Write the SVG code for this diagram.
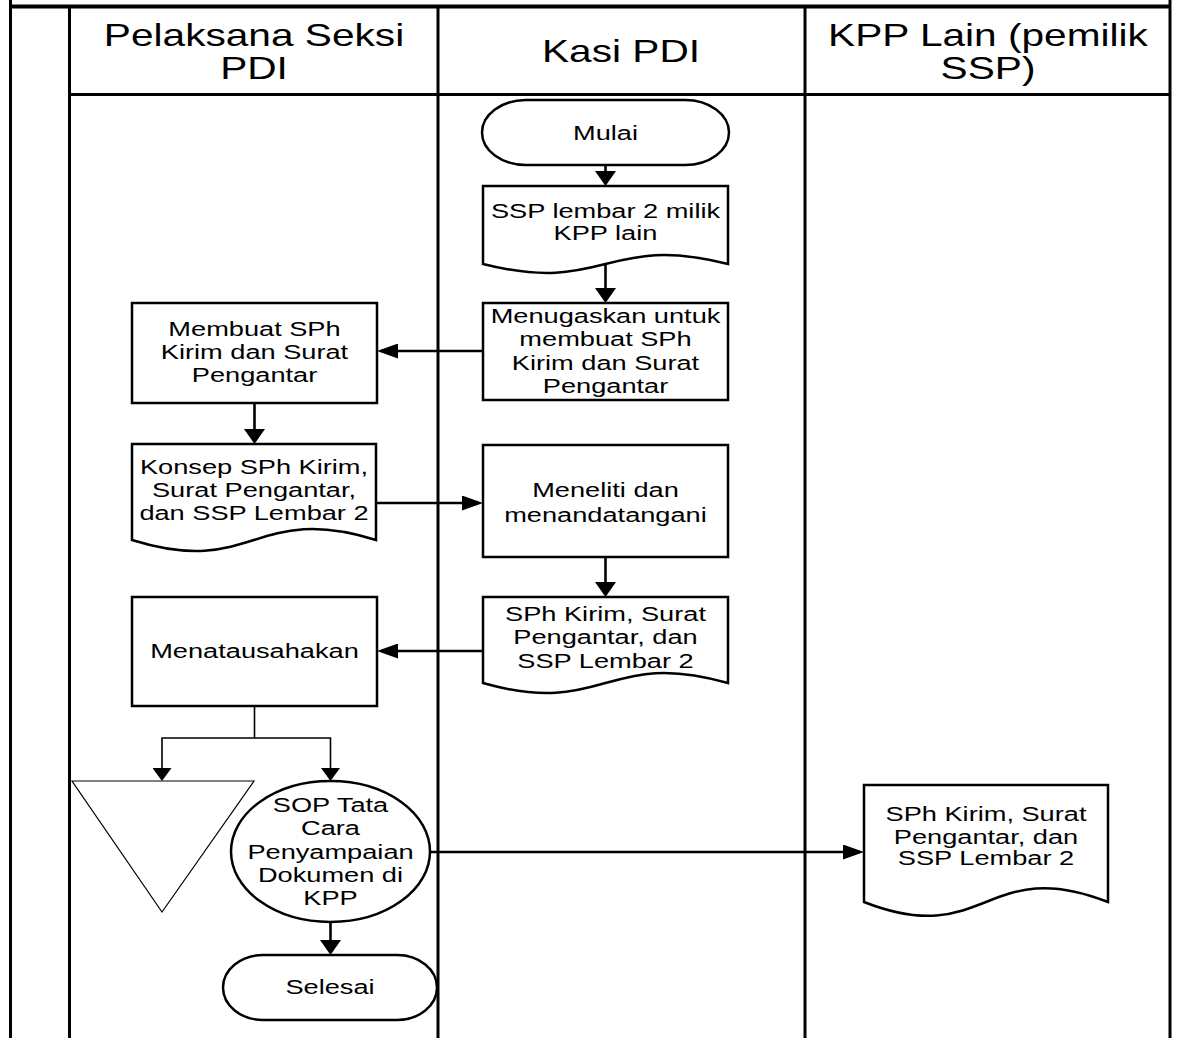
<svg xmlns="http://www.w3.org/2000/svg" width="1179" height="1038" viewBox="0 0 1179 1038">
  <defs>
    <style>
      .frame{fill:none;stroke:#000;stroke-width:3}
      .shape{fill:#fff;stroke:#000;stroke-width:2.5}
      .thin{fill:#fff;stroke:#000;stroke-width:1.2}
      .conn{fill:none;stroke:#000;stroke-width:2.6}
      .conn-thin{fill:none;stroke:#000;stroke-width:1.6}
      text{font-family:"Liberation Sans",Arial,sans-serif;fill:#000}
      .hd{font-size:32px;text-anchor:middle}
      .lb{font-size:20px;text-anchor:middle}
    </style>
    <!-- horizontal arrowhead -->
    <marker id="ah" markerUnits="userSpaceOnUse" markerWidth="21" markerHeight="15" refX="17" refY="7.5" orient="auto">
      <path d="M0,0 L21,7.5 L0,15 Z" fill="#000"/>
    </marker>
    <!-- vertical arrowhead (wider base) -->
    <marker id="av" markerUnits="userSpaceOnUse" markerWidth="15" markerHeight="21" refX="11" refY="10.5" orient="auto">
      <path d="M0,0 L15,10.5 L0,21 Z" fill="#000"/>
    </marker>
    <!-- smaller vertical arrowhead for the thin branch lines -->
    <marker id="avs" markerUnits="userSpaceOnUse" markerWidth="13" markerHeight="19" refX="9" refY="9.5" orient="auto">
      <path d="M0,0 L13,9.5 L0,19 Z" fill="#000"/>
    </marker>
  </defs>

  <rect width="1179" height="1038" fill="#fff"/>

  <!-- swimlane frame -->
  <g id="lanes">
    <line x1="10.5" y1="0" x2="10.5" y2="1038" class="frame"/>
    <line x1="1170" y1="0" x2="1170" y2="1038" class="frame"/>
    <line x1="10" y1="6.5" x2="1171" y2="6.5" stroke="#000" stroke-width="4"/>
    <line x1="69.5" y1="7" x2="69.5" y2="1038" class="frame"/>
    <line x1="438" y1="7" x2="438" y2="1038" class="frame"/>
    <line x1="805" y1="7" x2="805" y2="1038" class="frame"/>
    <line x1="69" y1="94.5" x2="1170" y2="94.5" class="frame"/>
    <text class="hd" transform="translate(254,0) scale(1.27,1)"><tspan x="0" y="46">Pelaksana Seksi</tspan><tspan x="0" y="79">PDI</tspan></text>
    <text class="hd" transform="translate(621,0) scale(1.27,1)"><tspan x="0" y="62.5">Kasi PDI</tspan></text>
    <text class="hd" transform="translate(988,0) scale(1.27,1)"><tspan x="0" y="46">KPP Lain (pemilik</tspan><tspan x="0" y="79">SSP)</tspan></text>
  </g>

  <!-- connectors -->
  <g id="connectors">
    <path class="conn" d="M605.5,165 V182" marker-end="url(#av)"/>
    <path class="conn" d="M605.5,263 V299" marker-end="url(#av)"/>
    <path class="conn" d="M483,351 H381" marker-end="url(#ah)"/>
    <path class="conn" d="M254.5,403 V440" marker-end="url(#av)"/>
    <path class="conn" d="M376,503 H479" marker-end="url(#ah)"/>
    <path class="conn" d="M605.5,557 V593" marker-end="url(#av)"/>
    <path class="conn" d="M483,651 H381" marker-end="url(#ah)"/>
    <path class="conn-thin" d="M254.5,706 V738 H162 V777" marker-end="url(#avs)"/>
    <path class="conn-thin" d="M254.5,738 H330.5 V777" marker-end="url(#avs)"/>
    <path class="conn" d="M330.5,922 V951" marker-end="url(#av)"/>
    <path class="conn" d="M430,852 H860" marker-end="url(#ah)"/>
  </g>

  <g id="mulai">
    <rect class="shape" x="482" y="100" width="247" height="65" rx="44" ry="32.5"/>
    <text class="lb" transform="translate(605.5,0) scale(1.36,1)"><tspan x="0" y="140">Mulai</tspan></text>
  </g>

  <g id="ssp-lembar-2">
    <path class="shape" d="M483,186 H728 V264 C605.5,233 605.5,295 483,264 Z"/>
    <text class="lb" transform="translate(605.5,0) scale(1.36,1)"><tspan x="0" y="218">SSP lembar 2 milik</tspan><tspan x="0" y="240">KPP lain</tspan></text>
  </g>

  <g id="menugaskan">
    <rect class="shape" x="483" y="303" width="245" height="97"/>
    <text class="lb" transform="translate(605.5,0) scale(1.36,1)"><tspan x="0" y="323">Menugaskan untuk</tspan><tspan x="0" y="346">membuat SPh</tspan><tspan x="0" y="370">Kirim dan Surat</tspan><tspan x="0" y="393">Pengantar</tspan></text>
  </g>

  <g id="membuat-sph">
    <rect class="shape" x="132" y="303" width="245" height="100"/>
    <text class="lb" transform="translate(254.5,0) scale(1.36,1)"><tspan x="0" y="336">Membuat SPh</tspan><tspan x="0" y="359">Kirim dan Surat</tspan><tspan x="0" y="382">Pengantar</tspan></text>
  </g>

  <g id="konsep-sph">
    <path class="shape" d="M132,444 H376 V540 C254,502 254,578 132,540 Z"/>
    <text class="lb" transform="translate(254,0) scale(1.36,1)"><tspan x="0" y="474">Konsep SPh Kirim,</tspan><tspan x="0" y="497">Surat Pengantar,</tspan><tspan x="0" y="520">dan SSP Lembar 2</tspan></text>
  </g>

  <g id="meneliti">
    <rect class="shape" x="483" y="445" width="245" height="112"/>
    <text class="lb" transform="translate(605.5,0) scale(1.36,1)"><tspan x="0" y="497">Meneliti dan</tspan><tspan x="0" y="522">menandatangani</tspan></text>
  </g>

  <g id="sph-kirim-kasi">
    <path class="shape" d="M483,597 H728 V683 C605.5,648 605.5,718 483,683 Z"/>
    <text class="lb" transform="translate(605.5,0) scale(1.36,1)"><tspan x="0" y="621">SPh Kirim, Surat</tspan><tspan x="0" y="644">Pengantar, dan</tspan><tspan x="0" y="668">SSP Lembar 2</tspan></text>
  </g>

  <g id="menatausahakan">
    <rect class="shape" x="132" y="597" width="245" height="109"/>
    <text class="lb" transform="translate(254.5,0) scale(1.36,1)"><tspan x="0" y="658">Menatausahakan</tspan></text>
  </g>

  <g id="arsip">
    <path class="thin" d="M72,781 H254 L162,912 Z"/>
  </g>

  <g id="sop-penyampaian">
    <ellipse class="shape" cx="330.5" cy="851.5" rx="99.5" ry="70.5"/>
    <text class="lb" transform="translate(330.5,0) scale(1.36,1)"><tspan x="0" y="812">SOP Tata</tspan><tspan x="0" y="835">Cara</tspan><tspan x="0" y="859">Penyampaian</tspan><tspan x="0" y="882">Dokumen di</tspan><tspan x="0" y="905">KPP</tspan></text>
  </g>

  <g id="selesai">
    <rect class="shape" x="223" y="955" width="214" height="65" rx="40" ry="32.5"/>
    <text class="lb" transform="translate(330,0) scale(1.36,1)"><tspan x="0" y="994">Selesai</tspan></text>
  </g>

  <g id="sph-kirim-kpp">
    <path class="shape" d="M864,785 H1108 V902 C986,854 986,950 864,902 Z"/>
    <text class="lb" transform="translate(986,0) scale(1.36,1)"><tspan x="0" y="821">SPh Kirim, Surat</tspan><tspan x="0" y="844">Pengantar, dan</tspan><tspan x="0" y="865">SSP Lembar 2</tspan></text>
  </g>
</svg>
